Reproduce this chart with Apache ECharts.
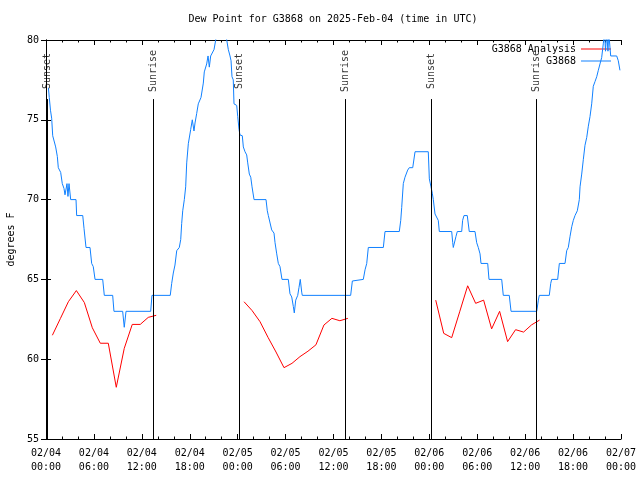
<!DOCTYPE html>
<html>
<head>
<meta charset="utf-8">
<script src="https://cdn.jsdelivr.net/npm/echarts@6/dist/echarts.min.js"></script>
<style>html,body{margin:0;padding:0;background:#fff}#c{width:640px;height:480px}</style>
</head>
<body>
<div id="c"></div>
<script>
// hours since 2025-02-04 00:00 UTC
const xTickLabels = ['02/04\n00:00','02/04\n06:00','02/04\n12:00','02/04\n18:00','02/05\n00:00','02/05\n06:00','02/05\n12:00','02/05\n18:00','02/06\n00:00','02/06\n06:00','02/06\n12:00','02/06\n18:00','02/07\n00:00'];
const sunTimes = [0.15, 13.44, 24.2, 37.45, 48.3, 61.4];
const sunNames = ['Sunset','Sunrise','Sunset','Sunrise','Sunset','Sunrise'];

const analysisHours = [0.8,1.8,2.8,3.8,4.8,5.8,6.8,7.8,8.8,9.8,10.8,11.8,12.8,13.8,
  24.8,25.8,26.8,27.8,28.8,29.8,30.8,31.8,32.8,33.8,34.8,35.8,36.8,37.8,
  48.8,49.8,50.8,51.8,52.8,53.8,54.8,55.8,56.8,57.8,58.8,59.8,60.8,61.8];
const analysisValues = [61.5,62.55,63.6,64.3,63.55,61.97,61.0,61.0,58.24,60.68,62.18,62.18,62.62,62.75,
  63.6,63.05,62.35,61.37,60.45,59.47,59.74,60.16,60.5,60.9,62.14,62.56,62.41,62.56,
  63.7,61.62,61.35,62.97,64.6,63.5,63.7,61.9,63.0,61.1,61.85,61.7,62.15,62.45];

const obsHours = [0.30,0.41,0.56,0.71,0.84,1.21,1.42,1.54,1.84,2.04,2.25,2.38,2.50,2.63,2.75,2.88,3.09,3.76,3.84,4.60,4.76,5.01,5.51,5.72,5.92,6.14,7.10,7.30,8.35,8.51,9.60,9.80,10.02,13.11,13.27,15.56,15.74,15.94,16.15,16.37,16.69,16.87,16.99,17.12,17.32,17.49,17.62,17.82,18.12,18.32,18.53,18.66,18.87,19.07,19.41,19.70,19.82,20.12,20.29,20.45,20.62,20.87,21.04,21.25,21.54,22.29,22.63,22.83,23.04,23.17,23.29,23.45,23.54,23.88,24.01,24.17,24.29,24.58,24.71,24.92,25.13,25.26,25.46,25.64,25.80,26.05,27.55,27.71,27.84,28.26,28.55,28.68,28.89,29.09,29.30,29.55,30.34,30.55,30.77,30.97,31.09,31.27,31.52,31.68,31.84,32.02,32.09,38.15,38.36,38.57,39.73,39.95,40.16,40.36,42.24,42.45,44.24,44.42,44.54,44.74,44.95,45.29,45.49,45.92,46.21,47.87,48.00,48.21,48.37,48.50,48.71,48.92,49.12,49.25,50.80,50.93,51.00,51.22,51.34,51.50,52.05,52.17,52.34,52.75,53.00,53.72,53.93,54.13,54.35,54.47,55.31,55.47,57.06,57.26,58.01,58.23,61.45,61.65,61.77,63.02,63.20,63.32,64.07,64.28,64.99,65.20,65.40,65.62,65.83,66.03,66.24,66.53,66.78,66.87,67.08,67.28,67.49,67.71,67.91,68.12,68.33,68.53,68.75,68.96,69.16,69.37,69.58,69.79,69.94,70.06,70.21,70.37,70.46,70.71,71.46,71.66,71.87];
const obsValues = [77.0,76.4,75.6,75.1,74.0,73.3,72.7,72.0,71.7,71.0,70.7,70.3,70.2,71.0,70.2,71.0,70.0,70.0,69.0,69.0,68.2,67.0,67.0,66.0,65.8,65.0,65.0,64.0,64.0,63.0,63.0,62.0,63.0,63.0,64.0,64.0,64.75,65.4,65.9,66.8,67.0,67.5,68.5,69.3,70.0,70.8,72.3,73.5,74.4,75.0,74.3,74.8,75.4,76.0,76.4,77.3,78.0,78.5,79.0,78.3,79.0,79.0,79.4,80.0,81.0,81.0,80.0,79.4,79.0,78.7,77.7,77.5,76.0,75.9,75.2,74.4,74.05,74.0,73.3,73.0,72.8,72.3,71.6,71.4,70.8,70.0,70.0,69.3,69.0,68.1,67.9,67.3,66.6,66.0,65.8,65.0,65.0,64.1,63.9,63.3,62.9,63.7,64.0,64.5,65.0,64.2,64.0,64.0,64.9,65.0,65.0,65.6,66.0,67.0,67.0,68.0,68.0,68.7,69.5,71.0,71.4,71.85,72.0,72.0,73.0,73.0,71.3,70.8,70.4,70.0,69.1,69.0,68.7,68.0,68.0,67.3,67.0,67.0,67.7,68.0,68.0,68.7,69.0,69.0,68.0,68.0,67.3,67.0,66.6,66.0,66.0,65.0,65.0,64.0,64.0,63.0,63.0,63.7,64.0,64.0,64.75,65.0,65.0,66.0,66.0,66.8,67.0,67.7,68.3,68.7,69.0,69.3,70.0,70.8,71.6,72.5,73.4,73.9,74.6,75.2,76.0,77.1,77.4,77.7,78.1,78.5,78.9,79.8,80.5,79.3,80.5,79.3,80.5,79.0,79.0,78.7,78.1];

const MONO = '"DejaVu Sans Mono", monospace';
const SUN_LINE_TOP = 76.3;
const SUN_LABEL_Y = 78.06;

// build analysis data with breaks between gaps
const anaData = [];
for (let i = 0; i < analysisHours.length; i++) {
  if (i > 0 && analysisHours[i] - analysisHours[i-1] > 2) anaData.push([(analysisHours[i] + analysisHours[i-1]) / 2, '-']);
  anaData.push([analysisHours[i], analysisValues[i]]);
}
const obsData = obsHours.map((h, i) => [h, obsValues[i]]);

const chart = echarts.init(document.getElementById('c'), null, {renderer: 'canvas'});
const tickCommon = {
  axisLine: {show: true, lineStyle: {color: '#000', width: 1}},
  splitLine: {show: false}
};
chart.setOption({
  animation: false,
  backgroundColor: '#fff',
  title: {
    text: 'Dew Point for G3868 on 2025-Feb-04 (time in UTC)',
    left: 333, top: 14, textAlign: 'center', padding: 0,
    textStyle: {fontFamily: MONO, fontSize: 10, fontWeight: 'normal', color: '#000'}
  },
  legend: [
    {data: ['G3868 Analysis'], right: 29, top: 44, orient: 'vertical', align: 'right', icon: 'rect',
     itemWidth: 30, itemHeight: 1, padding: 0, selectedMode: false,
     textStyle: {fontFamily: MONO, fontSize: 10, color: '#000'}},
    {data: ['G3868'], right: 29, top: 56, orient: 'vertical', align: 'right', icon: 'rect',
     itemWidth: 30, itemHeight: 1, padding: 0, selectedMode: false,
     textStyle: {fontFamily: MONO, fontSize: 10, color: '#000'}}
  ],
  grid: {left: 46, right: 19, top: 40, bottom: 41, containLabel: false},
  graphic: [{
    type: 'text', x: 11, y: 239.5, rotation: Math.PI / 2,
    style: {text: 'degrees F', font: '10px "DejaVu Sans Mono", monospace', fill: '#000',
            textAlign: 'center', textVerticalAlign: 'middle', verticalAlign: 'middle'}
  }],
  xAxis: [
    Object.assign({
      type: 'value', min: 0, max: 72, interval: 6, position: 'bottom',
      axisTick: {show: true, inside: true, length: 5, lineStyle: {color: '#000'}},
      minorTick: {show: true, splitNumber: 3, length: 2.5, lineStyle: {color: '#000'}},
      axisLabel: {
        show: true, showMinLabel: true, showMaxLabel: true, margin: 7,
        fontFamily: MONO, fontSize: 10, color: '#000', lineHeight: 14,
        formatter: v => xTickLabels[Math.round(v / 6)] || ''
      }
    }, tickCommon),
    Object.assign({
      type: 'value', min: 0, max: 72, interval: 6, position: 'top',
      axisTick: {show: true, inside: true, length: 5, lineStyle: {color: '#000'}},
      minorTick: {show: true, splitNumber: 3, length: 2.5, lineStyle: {color: '#000'}},
      axisLabel: {show: false}
    }, tickCommon)
  ],
  yAxis: [
    Object.assign({
      type: 'value', min: 55, max: 80, interval: 5, position: 'left',
      axisTick: {show: true, inside: true, length: 5, lineStyle: {color: '#000'}},
      axisLabel: {show: true, margin: 7, fontFamily: MONO, fontSize: 10, color: '#000'}
    }, tickCommon),
    Object.assign({
      type: 'value', min: 55, max: 80, interval: 5, position: 'right',
      axisTick: {show: true, inside: true, length: 5, lineStyle: {color: '#000'}},
      axisLabel: {show: false}
    }, tickCommon)
  ],
  series: [
    {
      name: 'G3868 Analysis', type: 'line', data: anaData, showSymbol: false, symbol: 'none',
      connectNulls: false, color: '#ff0000', lineStyle: {color: '#ff0000', width: 1}, z: 3,
      markLine: {
        silent: true, symbol: ['none', 'none'], animation: false,
        label: {show: false},
        lineStyle: {color: '#000', width: 1, type: 'solid'},
        data: sunTimes.map(t => [{coord: [t, 55]}, {coord: [t, SUN_LINE_TOP]}])
      }
    },
    {
      name: 'G3868', type: 'line', data: obsData, showSymbol: false, symbol: 'none',
      color: '#1080ff', lineStyle: {color: '#1080ff', width: 1}, z: 4
    },
    {
      name: 'sunlabels', type: 'scatter', symbolSize: 1, itemStyle: {color: 'rgba(0,0,0,0)'},
      data: sunTimes.map(t => [t, SUN_LABEL_Y]), silent: true, z: 5,
      label: {show: true, position: 'inside', rotate: 90, fontFamily: MONO, fontSize: 10, color: '#000',
              formatter: p => sunNames[p.dataIndex]}
    }
  ]
});
</script>
</body>
</html>
